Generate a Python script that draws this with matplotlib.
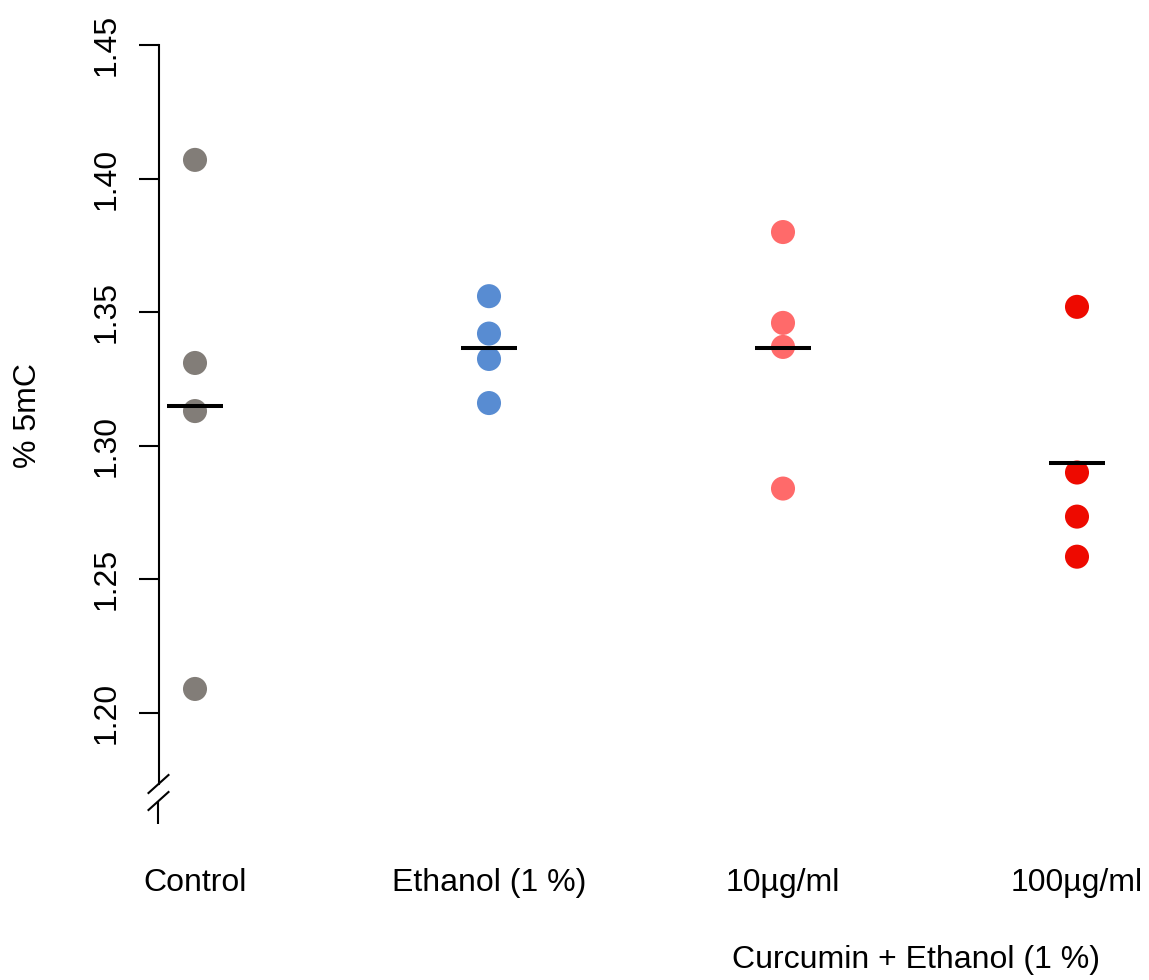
import matplotlib
matplotlib.use("Agg")
import matplotlib.pyplot as plt
import numpy as np

plt.rcParams["font.family"] = ["Liberation Sans", "DejaVu Sans"]

groups = ["Control", "Ethanol (1 %)", "10µg/ml", "100µg/ml"]
control = [1.407, 1.331, 1.313, 1.209]
ethanol = [1.356, 1.342, 1.3325, 1.316]
cur10 = [1.380, 1.346, 1.337, 1.284]
cur100 = [1.352, 1.290, 1.2735, 1.2585]
colors = ["#827D78", "#588CD2", "#FF6A6A", "#EE0A00"]
yticks = [1.20, 1.25, 1.30, 1.35, 1.40, 1.45]

data = [control, ethanol, cur10, cur100]
fs = 23

W, H = 1149, 980
fig = plt.figure(figsize=(W / 100, H / 100), dpi=100)
ax = fig.add_axes([158.5 / W, (H - 824) / H, 1 - 158.5 / W, (824 - 45) / H])

x0 = 1 - 36.5 / 294
x1 = x0 + (W - 158.5) / 294
y_top = 1.45
y_bot = y_top - (824 - 45) / 2672
ax.set_xlim(x0, x1)
ax.set_ylim(y_bot, y_top)

for i, vals in enumerate(data):
    xs = np.full(len(vals), i + 1)
    ax.scatter(xs, vals, s=300, color=colors[i], edgecolors="none", zorder=3, clip_on=False)
    m = np.mean(vals)
    ax.plot([i + 1 - 0.094, i + 1 + 0.094], [m, m], color="black", lw=2.9,
            solid_capstyle="butt", zorder=4)

# axis with break
for s in ["top", "right", "bottom"]:
    ax.spines[s].set_visible(False)
gap_hi = y_top - (784 - 45) / 2672
gap_lo = y_top - (801 - 45) / 2672
ax.spines["left"].set_bounds(gap_hi, y_top)
ax.spines["left"].set_linewidth(1.5)
ax.plot([x0, x0], [y_bot, gap_lo], color="black", lw=1.5, clip_on=False,
        solid_capstyle="butt")
dx = 10 / 294
dy = 9 / 2672
for yc in [gap_hi, gap_lo]:
    ax.plot([x0 - dx, x0 + dx], [yc - dy, yc + dy], color="black", lw=1.5, clip_on=False)

ax.set_yticks(yticks)
ax.set_yticklabels(["%.2f" % t for t in yticks], rotation=90, va="center")
ax.tick_params(axis="y", length=14.4, width=1.5, labelsize=fs, pad=12)

ax.set_xticks(range(1, len(groups) + 1))
ax.set_xticklabels(groups)
ax.tick_params(axis="x", length=0, labelsize=fs, pad=32)

ax.set_ylabel("% 5mC", fontsize=fs)
ax.yaxis.set_label_coords(-116 / (W - 158.5), (824 - 415) / (824 - 45))

fig.text(916 / W, 1 - 960 / H, "Curcumin + Ethanol (1 %)",
         ha="center", va="center", fontsize=fs)

fig.savefig("out.png", dpi=100)
